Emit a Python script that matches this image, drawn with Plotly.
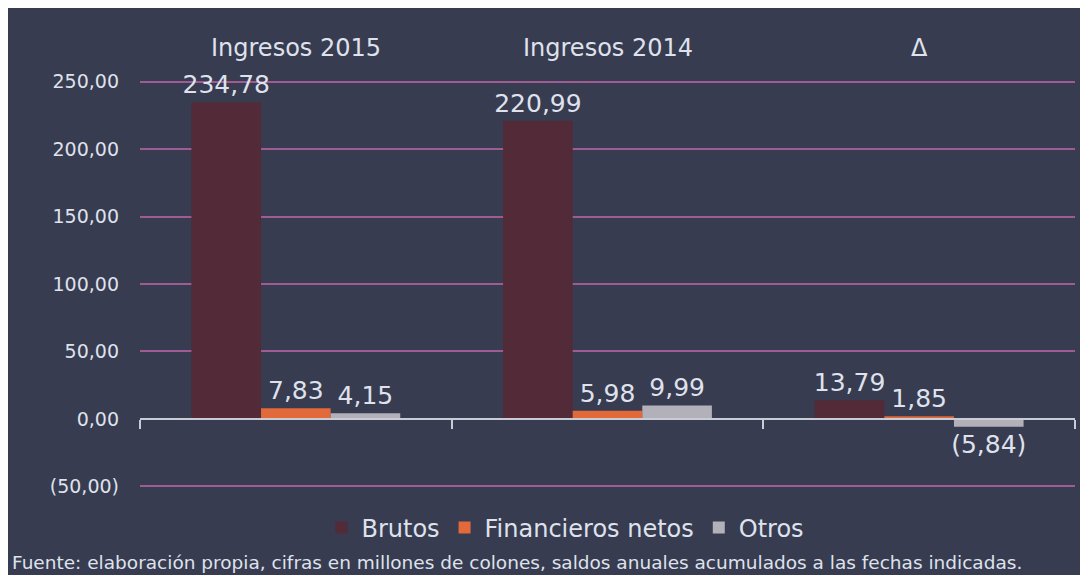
import plotly.graph_objects as go

categories = ["Ingresos 2015", "Ingresos 2014", "\u0394"]
brutos = [234.78, 220.99, 13.79]
financieros = [7.83, 5.98, 1.85]
otros = [4.15, 9.99, -5.84]
series_names = ["Brutos", "Financieros netos", "Otros"]
tick_vals = [-50, 0, 50, 100, 150, 200, 250]
tick_text = ["(50,00)", "0,00", "50,00", "100,00", "150,00", "200,00", "250,00"]
source_text = "Fuente: elaboración propia, cifras en millones de colones, saldos anuales acumulados a las fechas indicadas."

colors = ["#522a38", "#e2693a", "#b2b1ba"]
bg = "#373c50"
txt = "#dfe2ec"
FONT = "DejaVu Sans"


def fmt(v):
    s = f"{abs(v):,.2f}".replace(",", "X").replace(".", ",").replace("X", ".")
    return f"({s})" if v < 0 else s


fig = go.Figure()
for name, vals, col in zip(series_names, [brutos, financieros, otros], colors):
    fig.add_trace(go.Bar(
        x=categories, y=vals, name=name,
        marker=dict(color=col, line=dict(width=0)),
        text=[fmt(v) for v in vals], textposition="outside",
        textfont=dict(size=25, color=txt, family=FONT),
        constraintext="none", cliponaxis=False,
    ))

for c in categories:
    fig.add_annotation(x=c, xref="x", y=1, yref="paper", yanchor="bottom", yshift=15,
                       text=c, showarrow=False,
                       font=dict(size=24, color=txt, family=FONT))

fig.add_annotation(x=-0.139, xref="paper", xanchor="left", y=-0.18, yref="paper",
                   yanchor="middle", text=source_text, showarrow=False,
                   font=dict(size=18.5, color=txt, family=FONT))

fig.update_layout(
    width=1080, height=567,
    paper_bgcolor=bg, plot_bgcolor=bg,
    margin=dict(l=132, r=13, t=71, b=86),
    barmode="group", bargap=0.33, bargroupgap=0,
    font=dict(family=FONT, color=txt),
    legend=dict(orientation="h", x=0.455, xanchor="center", y=-0.095, yanchor="middle",
                font=dict(size=24, color=txt, family=FONT), bgcolor="rgba(0,0,0,0)",
                itemwidth=30, traceorder="normal"),
    xaxis=dict(type="category", range=[-0.5, 2.5], showticklabels=False, showgrid=False,
               zeroline=False, showline=True, linecolor="#c9ccd4", linewidth=2,
               ticks="outside", tickson="boundaries", ticklen=9, tickcolor="#c9ccd4",
               tickwidth=2, anchor="free", position=52 / 304, fixedrange=True),
    yaxis=dict(range=[-52, 252], tickvals=tick_vals, ticktext=tick_text,
               showgrid=True, gridcolor="#a05a94", gridwidth=1.5, zeroline=False,
               showline=False, ticks="", ticklabelstandoff=20,
               tickfont=dict(size=19, color=txt, family=FONT), domain=[0, 1]),
)

fig.write_html("out.html")
